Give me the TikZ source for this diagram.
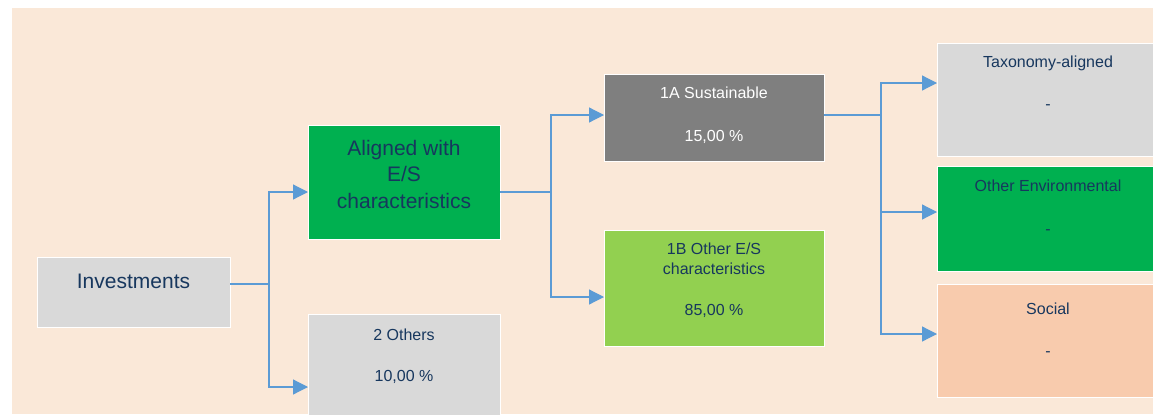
\documentclass[tikz,border=0pt]{standalone}
\usepackage{fontspec}
\setmainfont{Liberation Sans}
\usetikzlibrary{arrows.meta,positioning,calc}
\definecolor{bgpeach}{RGB}{250,232,216}
\definecolor{navytext}{RGB}{23,55,94}
\definecolor{linkblue}{RGB}{91,155,213}
\definecolor{boxgray}{RGB}{217,217,217}
\definecolor{boxdark}{RGB}{127,127,127}
\definecolor{esgreen}{RGB}{0,176,80}
\definecolor{esgreenlt}{RGB}{146,208,80}
\definecolor{socpeach}{RGB}{248,203,173}

\begin{document}
\begin{tikzpicture}[
    x=1pt, y=-1pt,
    box/.style={rectangle, draw=white, line width=1pt, anchor=north west, inner sep=0pt, outer sep=0pt},
    bigtext/.style={font=\fontsize{21}{26.5}\selectfont, text=navytext, align=center, anchor=base, inner sep=0pt},
    smalltext/.style={font=\fontsize{16}{20}\selectfont, text=navytext, align=center, anchor=base, inner sep=0pt},
    link/.style={-{Triangle[length=15pt,width=15pt]}, draw=linkblue, line width=1.2pt}
]
\useasboundingbox (0,0) rectangle (1153,415);
\fill[white] (0,0) rectangle (1153,415);
\clip (12,8) rectangle (1153,414);
\fill[bgpeach] (12,8) rectangle (1153,414);

% Boxes
\node[box, fill=boxgray, minimum width=193pt, minimum height=70pt] (inv) at (37,257) {};
\node[box, fill=esgreen, minimum width=192pt, minimum height=114pt] (esa) at (308,125) {};
\node[box, fill=boxgray, minimum width=192pt, minimum height=114pt] (oth) at (308,314) {};
\node[box, fill=boxdark, minimum width=220pt, minimum height=87pt] (sus) at (604,74) {};
\node[box, fill=esgreenlt, minimum width=220pt, minimum height=116pt] (ose) at (604,230) {};
\node[box, fill=boxgray, minimum width=222pt, minimum height=113pt] (tax) at (937,43) {};
\node[box, fill=esgreen, minimum width=222pt, minimum height=105pt] (env) at (937,166) {};
\node[box, fill=socpeach, minimum width=222pt, minimum height=113pt] (soc) at (937,284) {};

% Box texts (multi-line ones sit on their last baseline)
\node[bigtext] (inv-t) at (133.5,288.5) {Investments};
\node[bigtext] (esa-t) at (404,208) {Aligned with\\E/S\\characteristics};
\node[smalltext] (oth-t) at (404,340.5) {2 Others};
\node[smalltext] (oth-v) at (404,381.5) {10,00 \%};
\node[smalltext, text=white] (sus-t) at (714,98.5) {1A Sustainable};
\node[smalltext, text=white] (sus-v) at (714,141.5) {15,00 \%};
\node[smalltext] (ose-t) at (714,274.5) {1B Other E/S\\characteristics};
\node[smalltext] (ose-v) at (714,315.5) {85,00 \%};
\node[smalltext] (tax-t) at (1048,67.5) {Taxonomy-aligned};
\node[smalltext] (tax-v) at (1048,109) {-};
\node[smalltext] (env-t) at (1048,191.5) {Other Environmental};
\node[smalltext] (env-v) at (1048,234) {-};
\node[smalltext] (soc-t) at (1048,314.5) {Social};
\node[smalltext] (soc-v) at (1048,356) {-};

% Junctions
\coordinate (j-inv) at (269,284);
\coordinate (j-esa) at (551,192);
\coordinate (j-sus) at (881,115);

% Connectors
\draw[link] ([yshift=8pt]inv.east) -- (j-inv) |- ([yshift=-10pt]esa.west);
\draw[link] (j-inv) |- ([yshift=-16pt]oth.west);
\draw[link] ([yshift=-10pt]esa.east) -- (j-esa) |- ([yshift=2.5pt]sus.west);
\draw[link] (j-esa) |- ([yshift=-9pt]ose.west);
\draw[link] ([yshift=2.5pt]sus.east) -- (j-sus) |- ([yshift=16.5pt]tax.west);
\draw[link] (j-sus) |- ([yshift=6.5pt]env.west);
\draw[link] (j-sus) |- ([yshift=6.5pt]soc.west);

\end{tikzpicture}
\end{document}
